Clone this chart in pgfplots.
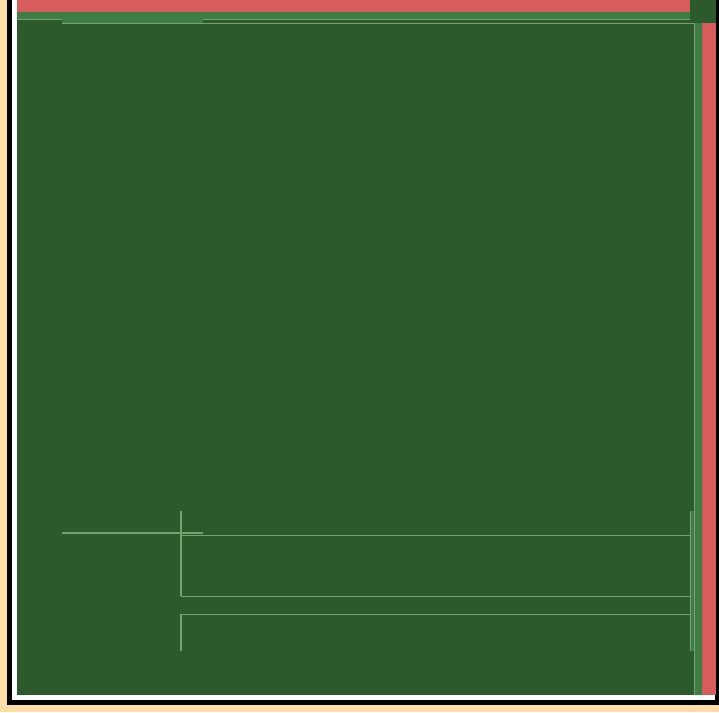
\documentclass[border=0pt]{standalone}
\usepackage{pgfplots}
\pgfplotsset{compat=1.18}
\definecolor{beige}{HTML}{FFDDA6}
\definecolor{dkgreen}{HTML}{2D5A2D}
\definecolor{mdgreen}{HTML}{3E7D43}
\definecolor{ltgreen}{HTML}{76A272}
\definecolor{bred}{HTML}{D75D5D}
\begin{document}
\begin{tikzpicture}
\begin{axis}[
  scale only axis, width=719pt, height=712pt,
  xmin=0, xmax=719, ymin=0, ymax=712, y dir=reverse,
  hide axis, clip=true]
% background layers
\addplot[fill=beige, draw=none] coordinates {(0,0)(719,0)(719,712)(0,712)} -- cycle;
\addplot[fill=black, draw=none] coordinates {(7,0)(719,0)(719,705)(7,705)} -- cycle;
\addplot[fill=white, draw=none] coordinates {(12,0)(715,0)(715,700)(12,700)} -- cycle;
\addplot[fill=dkgreen, draw=none] coordinates {(17,0)(716,0)(716,695)(17,695)} -- cycle;
% top marginal bars
\addplot[fill=bred, draw=none] coordinates {(17,0)(690,0)(690,12)(17,12)} -- cycle;
\addplot[fill=mdgreen, draw=none] coordinates {(17,12)(690,12)(690,19.5)(203,19.5)(203,23)(62,23)(62,19.5)(17,19.5)} -- cycle;
\addplot[ltgreen, line width=0.9pt] coordinates {(17,19.5)(62,19.5)};
\addplot[ltgreen, line width=0.9pt] coordinates {(203,19.5)(690,19.5)};
% right marginal bars
\addplot[fill=bred, draw=none] coordinates {(702,23)(716,23)(716,695)(702,695)} -- cycle;
\addplot[fill=mdgreen, draw=none] coordinates {(694,23)(702,23)(702,695)(694,695)(694,651)(690,651)(690,511)(694,511)} -- cycle;
\addplot[ltgreen, line width=0.9pt] coordinates {(690,511)(690,651)};
% main box outline
\addplot[ltgreen, line width=0.9pt] coordinates {(62,23)(694,23)(694,695)};
% whisker / box lines
\addplot[ltgreen, line width=1.2pt] coordinates {(62,533)(203,533)};
\addplot[ltgreen, line width=1.2pt] coordinates {(181,511)(181,596)};
\addplot[ltgreen, line width=1.2pt] coordinates {(181,614)(181,651)};
\addplot[ltgreen, line width=0.9pt] coordinates {(181,535)(690,535)};
\addplot[ltgreen, line width=0.9pt] coordinates {(181,596)(690,596)};
\addplot[ltgreen, line width=0.9pt] coordinates {(181,614)(690,614)};
\end{axis}
\end{tikzpicture}
\end{document}
